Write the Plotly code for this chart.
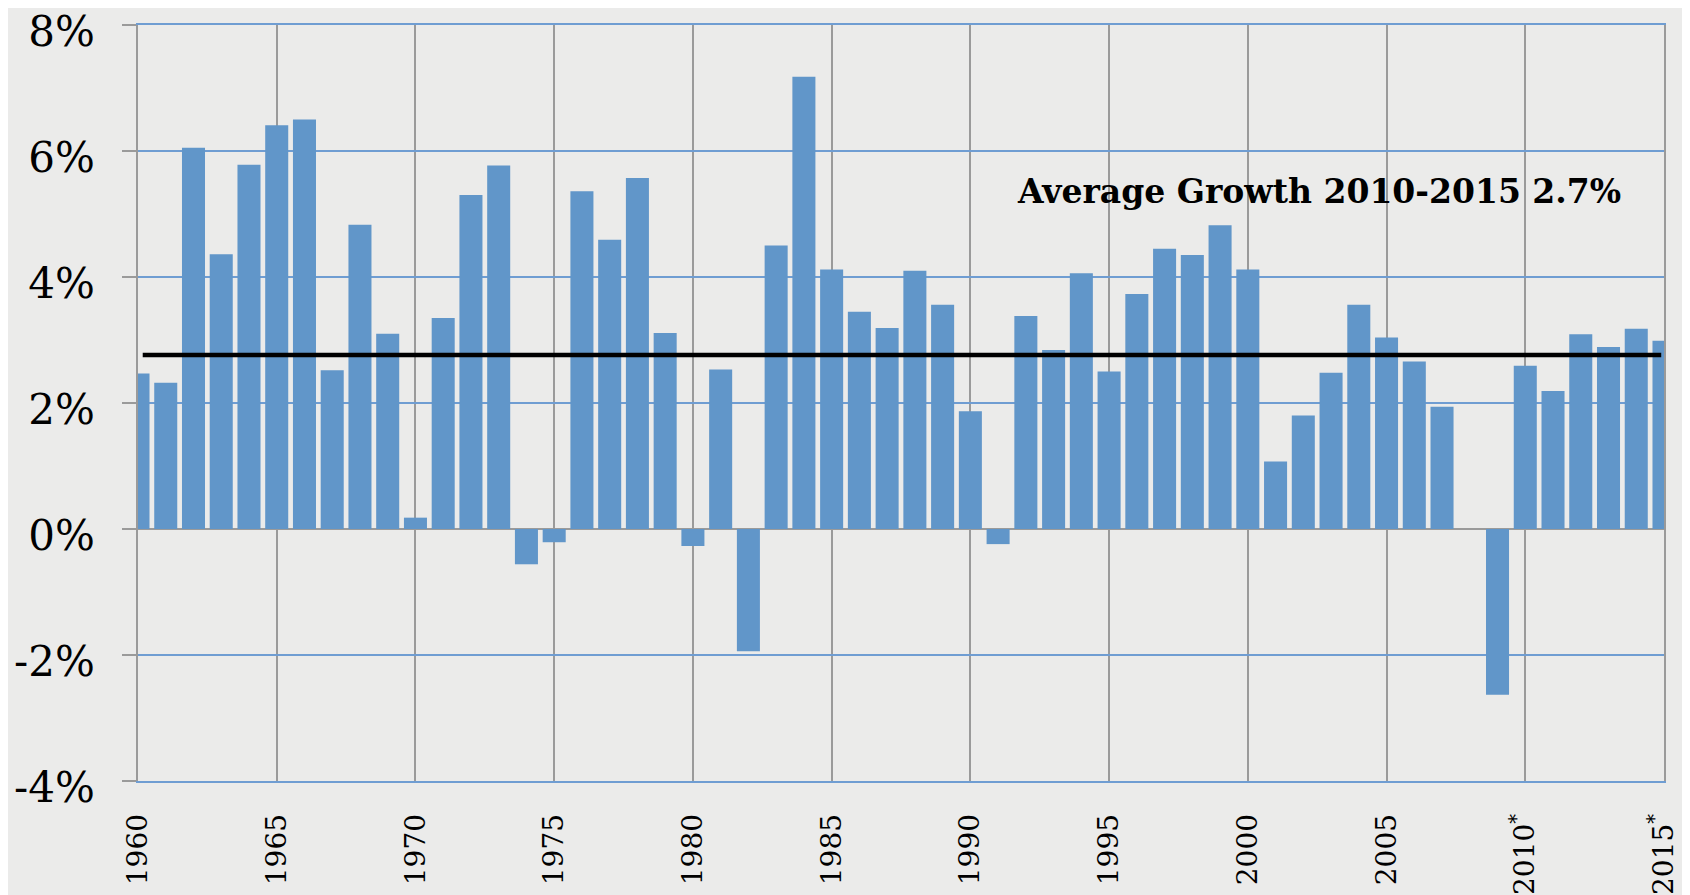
import plotly.graph_objects as go

years = list(range(1960, 2016))
growth = [
    2.47, 2.32, 6.05, 4.36, 5.78, 6.41, 6.50, 2.52, 4.83, 3.10,
    0.18, 3.35, 5.30, 5.77, -0.56, -0.21, 5.36, 4.59, 5.57, 3.11,
    -0.27, 2.53, -1.94, 4.50, 7.18, 4.12, 3.45, 3.19, 4.10, 3.56,
    1.87, -0.24, 3.38, 2.84, 4.06, 2.50, 3.73, 4.45, 4.35, 4.82,
    4.12, 1.07, 1.80, 2.48, 3.56, 3.04, 2.66, 1.94, 0.0, -2.63,
    2.59, 2.19, 3.09, 2.89, 3.18, 2.99,
]
avg_value = 2.76
avg_years = [1960.17, 2014.9]
annotation_text = "Average Growth 2010-2015 2.7%"

tick_years = [1960, 1965, 1970, 1975, 1980, 1985, 1990, 1995, 2000, 2005, 2010, 2015]
tick_labels = ["1960", "1965", "1970", "1975", "1980", "1985", "1990", "1995", "2000", "2005",
               "2010<sup>*</sup>", "2015<sup>*</sup>"]
y_ticks = [-4, -2, 0, 2, 4, 6, 8]
y_tick_labels = ["-4%", "-2%", "0%", "2%", "4%", "6%", "8%"]

BAR = "#6196C9"
BLUE_GRID = "#6f9dd2"
GRAY = "#9a9a9a"
BG = "#ebebea"
FONT = "DejaVu Serif"

fig = go.Figure()
fig.add_trace(go.Bar(x=years, y=growth, marker=dict(color=BAR, line=dict(width=0)), showlegend=False))
fig.add_trace(go.Scatter(x=avg_years, y=[avg_value, avg_value], mode="lines",
                         line=dict(color="black", width=4.5), showlegend=False))

fig.add_annotation(x=1991.6, y=5.35, xref="x", yref="y", text="<b>" + annotation_text + "</b>",
                   showarrow=False, xanchor="left", yanchor="middle",
                   font=dict(family=FONT, size=33, color="black"))

fig.update_layout(
    width=1690, height=895,
    margin=dict(l=130, r=34, t=17, b=122),
    paper_bgcolor=BG, plot_bgcolor=BG,
    bargap=0.17,
    font=dict(family=FONT, color="black"),
)
fig.update_xaxes(
    range=[1960, 2015], tickmode="array", tickvals=tick_years, ticktext=tick_labels,
    tickangle=-90, tickfont=dict(family=FONT, size=28, color="black"),
    showgrid=True, gridcolor=GRAY, gridwidth=1.5,
    showline=True, linecolor=BLUE_GRID, linewidth=1.5, mirror=True,
    ticks="", ticklabelstandoff=20, zeroline=False, automargin=False,
    ticklabeloverflow="allow",
)
fig.update_yaxes(
    range=[-4, 8], tickmode="array", tickvals=y_ticks, ticktext=y_tick_labels,
    tickfont=dict(family=FONT, size=42, color="black"),
    showgrid=True, gridcolor=BLUE_GRID, gridwidth=1.5,
    zeroline=True, zerolinecolor=GRAY, zerolinewidth=1.5,
    showline=True, linecolor=GRAY, linewidth=1.5, mirror=True,
    ticks="outside", ticklen=14, tickcolor=GRAY, tickwidth=1.5,
    ticklabelstandoff=19, ticklabelshift=6, automargin=False,
    ticklabeloverflow="allow",
)

fig.write_html("out.html")
